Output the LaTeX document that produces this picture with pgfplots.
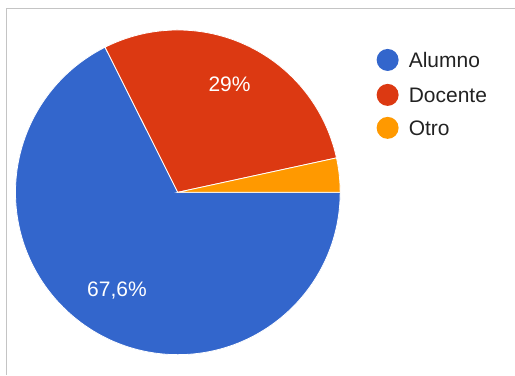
\documentclass[border=0pt]{standalone}
\usepackage{pgfplots}
\usepackage{pgfplotstable}
\pgfplotsset{compat=1.18}
\usepackage{fontspec}
\setmainfont{Liberation Sans}
\definecolor{pblue}{HTML}{3366CC}
\definecolor{pred}{HTML}{DC3912}
\definecolor{porange}{HTML}{FF9900}
\definecolor{frame}{HTML}{C4C4C4}
\definecolor{legtext}{HTML}{222222}
\pgfplotstableread{
label value
Alumno 67.6
Docente 29
Otro 3.4
}\piedata
\begin{document}
\begin{tikzpicture}
\pgfplotstablegetelem{0}{value}\of\piedata \pgfmathsetmacro{\va}{\pgfplotsretval}
\pgfplotstablegetelem{1}{value}\of\piedata \pgfmathsetmacro{\vb}{\pgfplotsretval}
\pgfplotstablegetelem{2}{value}\of\piedata \pgfmathsetmacro{\vc}{\pgfplotsretval}
\pgfmathsetmacro{\aA}{-3.6*\va}
\pgfmathsetmacro{\aB}{\aA-3.6*\vb}
\pgfmathsetmacro{\aC}{\aB-3.6*\vc}
\pgfmathsetmacro{\mA}{\aA/2}
\pgfmathsetmacro{\mB}{(\aA+\aB)/2}
\def\cx{178}\def\cy{182.5}\def\r{162.5}
\pgfmathsetmacro{\lAx}{\cx+116*cos(\mA)}
\pgfmathsetmacro{\lAy}{\cy+116*sin(\mA)}
\pgfmathsetmacro{\lBx}{\cx+120*cos(\mB)}
\pgfmathsetmacro{\lBy}{\cy+120*sin(\mB)}
\begin{axis}[
  width=515pt, height=375pt, scale only axis,
  xmin=0, xmax=515, ymin=0, ymax=375,
  hide axis, clip=false,
]
\path (axis cs:0,0) rectangle (axis cs:515,375);
\draw[frame, line width=1pt] (axis cs:515,366) -- (axis cs:7,366) -- (axis cs:7,0);
\fill[pblue, draw=white, line width=0.8pt] (axis cs:\cx,\cy) -- ++(0:\r pt) arc[start angle=0, end angle=\aA, radius=\r pt] -- cycle;
\fill[pred, draw=white, line width=0.8pt] (axis cs:\cx,\cy) -- ++(\aA:\r pt) arc[start angle=\aA, end angle=\aB, radius=\r pt] -- cycle;
\fill[porange, draw=white, line width=0.8pt] (axis cs:\cx,\cy) -- ++(\aB:\r pt) arc[start angle=\aB, end angle=\aC, radius=\r pt] -- cycle;
\node[white, font=\fontsize{21}{25}\selectfont] at (axis cs:\lAx,\lAy) {67,6\%};
\node[white, font=\fontsize{21}{25}\selectfont] at (axis cs:\lBx,\lBy) {29\%};
% legend
\fill[pblue] (axis cs:388,315) circle[radius=11pt];
\fill[pred] (axis cs:388,280) circle[radius=11pt];
\fill[porange] (axis cs:388,247) circle[radius=11pt];
\node[anchor=base west, inner sep=0pt, legtext, font=\fontsize{21}{25}\selectfont] at (axis cs:409,307.5) {Alumno};
\node[anchor=base west, inner sep=0pt, legtext, font=\fontsize{21}{25}\selectfont] at (axis cs:409,272.5) {Docente};
\node[anchor=base west, inner sep=0pt, legtext, font=\fontsize{21}{25}\selectfont] at (axis cs:409,239.5) {Otro};
\end{axis}
\end{tikzpicture}
\end{document}
